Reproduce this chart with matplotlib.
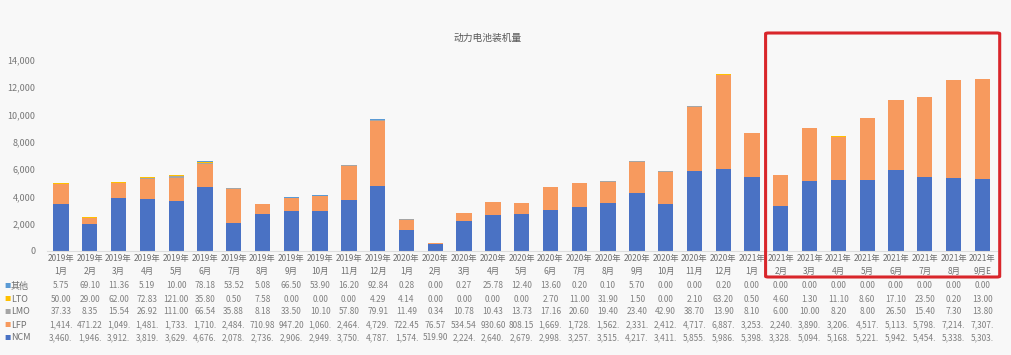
import numpy as np
import matplotlib
matplotlib.use("Agg")
from matplotlib import pyplot as plt
from matplotlib.patches import FancyBboxPatch
from matplotlib.transforms import blended_transform_factory
from matplotlib.ticker import FuncFormatter

plt.rcParams['font.family'] = ['Noto Sans CJK SC', 'DejaVu Sans']

years = ["2019年"] * 12 + ["2020年"] * 12 + ["2021年"] * 9
months = [f"{m}月" for m in range(1, 13)] * 2 + [f"{m}月" for m in range(1, 9)] + ["9月E"]

ncm = [3460.5, 1946.5, 3912.5, 3819.5, 3629.5, 4676.5, 2078.5, 2736.5, 2906.5, 2949.5,
       3750.5, 4787.5, 1574.5, 519.90, 2224.5, 2640.5, 2679.5, 2998.5, 3257.5, 3515.5,
       4217.5, 3411.5, 5855.5, 5986.5, 5398.5, 3328.5, 5094.5, 5168.5, 5221.5, 5942.5,
       5454.5, 5338.5, 5303.5]
lfp = [1414.5, 471.22, 1049.5, 1481.5, 1733.5, 1710.5, 2484.5, 710.98, 947.20, 1060.5,
       2464.5, 4729.5, 722.45, 76.57, 534.54, 930.60, 808.15, 1669.5, 1728.5, 1562.5,
       2331.5, 2412.5, 4717.5, 6887.5, 3253.5, 2240.5, 3890.5, 3206.5, 4517.5, 5113.5,
       5798.5, 7214.5, 7307.5]
lmo = [37.33, 8.35, 15.54, 26.92, 111.00, 66.54, 35.88, 8.18, 33.50, 10.10, 57.80, 79.91,
       11.49, 0.34, 10.78, 10.43, 13.73, 17.16, 20.60, 19.40, 23.40, 42.90, 38.70, 13.90,
       8.10, 6.00, 10.00, 8.20, 8.00, 26.50, 15.40, 7.30, 13.80]
lto = [50.00, 29.00, 62.00, 72.83, 121.00, 35.80, 0.50, 7.58, 0.00, 0.00, 0.00, 4.29,
       4.14, 0.00, 0.00, 0.00, 0.00, 2.70, 11.00, 31.90, 1.50, 0.00, 2.10, 63.20,
       0.50, 4.60, 1.30, 11.10, 8.60, 17.10, 23.50, 0.20, 13.00]
other = [5.75, 69.10, 11.36, 5.19, 10.00, 78.18, 53.52, 5.08, 66.50, 53.90, 16.20, 92.84,
         0.28, 0.00, 0.27, 25.78, 12.40, 13.60, 0.20, 0.10, 5.70, 0.00, 0.00, 0.20,
         0.00, 0.00, 0.00, 0.00, 0.00, 0.00, 0.00, 0.00, 0.00]

series = [("NCM", ncm, "#4A72C4"), ("LFP", lfp, "#F79A5E"), ("LMO", lmo, "#A5A5A5"),
          ("LTO", lto, "#FFC000"), ("其他", other, "#5B9BD5")]

bg = "#F8F8F8"
fig = plt.figure(figsize=(10.12, 3.55), dpi=100, facecolor=bg)
ax = fig.add_axes([0.046, 0.293, 0.939, 0.538], facecolor=bg)

x = np.arange(len(months))
bottom = np.zeros(len(months))
for name, vals, col in series:
    v = np.array(vals)
    ax.bar(x, v, width=0.53, bottom=bottom, color=col, zorder=2)
    bottom += v

ax.set_xlim(-0.5, len(months) - 0.5)
ax.set_ylim(0, 14000)
ax.set_yticks(range(0, 14001, 2000))
ax.yaxis.set_major_formatter(FuncFormatter(lambda v, p: f"{int(v):,}"))
ax.tick_params(axis='y', length=0, labelsize=6.5, labelcolor="#777777", pad=8)
ax.set_xticks([])
for s in ["top", "right", "left"]:
    ax.spines[s].set_visible(False)
ax.spines["bottom"].set_color("#DDDDDD")

fig.text(0.482, 0.893, "动力电池装机量", fontsize=7, color="#595959", ha="center", va="center")

tr = blended_transform_factory(ax.transData, fig.transFigure)
for i in range(len(months)):
    ax.text(i, 1 - 258 / 355, years[i], transform=tr, ha="center", va="center",
            fontsize=6, color="#707070")
    ax.text(i, 1 - 271 / 355, months[i], transform=tr, ha="center", va="center",
            fontsize=6, color="#707070")


def fmt(v):
    if v >= 1000:
        return f"{int(v):,}."
    return f"{v:.2f}"


rows_y = {"其他": 286, "LTO": 299, "LMO": 312, "LFP": 325, "NCM": 338}
for name, vals, col in series:
    yy = 1 - rows_y[name] / 355
    fig.text(4 / 1012, yy, "■", color=col, fontsize=4.5, va="center", ha="left")
    fig.text(11 / 1012, yy, name, color="#707070", fontsize=6.5, va="center", ha="left")
    for i, v in enumerate(vals):
        ax.text(i, yy, fmt(v), transform=tr, ha="center", va="center",
                fontsize=6, color="#808080")

x0 = 24.47
x1 = 32.6
rect = FancyBboxPatch((x0, 1 - 277 / 355), x1 - x0, (277 - 33) / 355,
                      boxstyle="round,pad=0,rounding_size=0.1", transform=tr,
                      fill=False, edgecolor="#D9262B", linewidth=2.2, clip_on=False,
                      mutation_aspect=0.02)
fig.add_artist(rect)

fig.savefig("out.png", dpi=100, facecolor=bg)
